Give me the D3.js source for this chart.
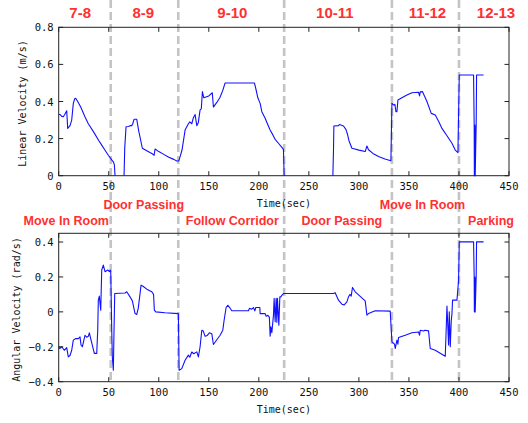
<!DOCTYPE html>
<html>
<head>
<meta charset="utf-8">
<script src="https://cdn.jsdelivr.net/npm/d3@7"></script>
<style>
  html, body { margin: 0; padding: 0; background: #fff; }
  svg { display: block; }
</style>
</head>
<body>
<svg id="chart" width="528" height="423"></svg>
<script>
// ---------- data ----------
const xTicks = [0, 50, 100, 150, 200, 250, 300, 350, 400, 450];
const linTicks = [0, 0.2, 0.4, 0.6, 0.8];
const angTicks = [-0.4, -0.2, 0, 0.2, 0.4];

const phaseBounds = [52, 119.5, 225.3, 333, 400];
const segLabels = ["7-8", "8-9", "9-10", "10-11", "11-12", "12-13"];
const segCenters = [21.5, 84.5, 173.5, 276, 368.5, 437];
const phaseLabels = ["Move In Room", "Door Passing", "Follow Corridor", "Door Passing", "Move In Room", "Parking"];
const phaseCenters = [7.5, 85, 173.5, 283, 363.5, 432];
const phaseRows = [1, 0, 1, 1, 0, 1];

// null = robot stopped (no trace drawn along the axis)
const linTime = [0, 1.3, 3, 4.6, 6, 8, 9, 11.3, 13, 14.6, 16, 17, 19, 22, 26, 29.6, 35, 40, 43, 46, 49.6, 53, 54.6, 55.6, 56.3, 60,
  65.3, 66, 67.3, 70, 71.3, 73, 74, 75.3, 78, 80, 83.6, 88, 93, 95.3, 96.3, 100, 105, 110, 115, 118, 120,
  121.7, 123.3, 126.3, 129.6, 131, 133, 134.6, 136.3, 138, 139.5, 141.3, 142.5, 143.6, 145, 150, 153.5, 154.6, 158, 161, 164, 166.3,
  195.6, 197.3, 199, 201.3, 203, 206.3, 209, 211.3, 214, 216.3, 219.6, 223, 224.6, 225.3, 250,
  274, 274.6, 275, 279.6, 280.6, 284.6, 287, 288.5, 290, 293, 295, 300, 306.3, 308, 309.6, 314, 319.6, 326, 332,
  333, 335, 336, 337, 338, 339, 343, 348, 353, 359.6, 360.6, 361.3, 363.6, 368, 372.3, 376.3, 380, 383, 388, 393, 396.3, 399, 399.6,
  400.3, 414.6, 415.2, 415.4, 415.6, 415.8, 416.0, 416.2, 417.2, 417.6, 424.6];
const linVel = [0.33, 0.33, 0.32, 0.318, 0.33, 0.35, 0.255, 0.27, 0.3, 0.39, 0.415, 0.417, 0.40, 0.37, 0.32, 0.28, 0.235, 0.19, 0.165, 0.14, 0.11, 0.085, 0.075, 0.06, 0, null,
  0, 0.15, 0.264, 0.265, 0.27, 0.27, 0.28, 0.304, 0.304, 0.24, 0.148, 0.135, 0.12, 0.11, 0.144, 0.13, 0.115, 0.1, 0.088, 0.079, 0.08,
  0.11, 0.14, 0.246, 0.28, 0.29, 0.28, 0.313, 0.33, 0.27, 0.285, 0.355, 0.36, 0.453, 0.42, 0.43, 0.447, 0.37, 0.395, 0.42, 0.46, 0.5,
  0.5, 0.462, 0.42, 0.39, 0.345, 0.31, 0.275, 0.246, 0.22, 0.196, 0.175, 0.153, 0.142, 0, null,
  0, 0.135, 0.268, 0.27, 0.276, 0.268, 0.25, 0.225, 0.19, 0.148, 0.145, 0.138, 0.13, 0.16, 0.14, 0.12, 0.103, 0.09, 0.081,
  0.39, 0.38, 0.385, 0.345, 0.345, 0.408, 0.42, 0.435, 0.447, 0.45, 0.43, 0.452, 0.453, 0.4, 0.336, 0.327, 0.29, 0.255, 0.215, 0.175, 0.138, 0.124, 0.33,
  0.543, 0.543, 0.273, 0, 0.273, 0, 0.273, 0, 0.273, 0.543, 0.543];

const angTime = [0, 1, 3, 5.6, 8, 9.6, 11.3, 13, 14.6, 17, 19.6, 21.3, 22.3, 23.6, 26.3, 28, 29.6, 30.6, 32.3, 34, 35.6, 38, 39, 39.6, 40.6, 42,
  43, 44.6, 46.3, 49, 50.6, 51.5, 52, 53, 53.6, 54.6, 55.3, 56, 66.3, 68, 71.3, 73.6, 76.3, 78, 79.5, 82.3, 84.6, 88, 93, 94.8, 95.6, 97,
  106.3, 119.6, 120.3, 123, 126.3, 129.6, 131, 133, 135, 138, 139.6, 141.3, 143, 144.5, 146.3, 148.5, 150.6, 153, 154.6, 158, 161.3, 164,
  165.3, 167.3, 169, 171.3, 173, 189.6, 190.6, 193, 194.6, 196, 197, 201, 201.3, 206.3, 207.3, 209, 210.5, 211.3, 212, 213, 214.6, 215.3,
  216.3, 217.3, 218, 218.6, 220, 221, 222, 223, 224.6, 274.6, 276.3, 279.6, 283, 285.3, 288, 289.6, 291, 292.3, 293.6, 296.3, 306.3, 308,
  309.6, 316.3, 331.3, 333, 335.6, 336.3, 338, 339, 339.6, 346.3, 353, 359.6, 360.6, 361.3, 364.6, 366, 369.6, 371.3, 376.3, 384.6, 386.3,
  387, 388, 389, 389.6, 390.3, 391.3, 392.3, 393, 393.6, 398, 399.6, 400.3, 414.6, 415.2, 415.4, 415.6, 415.8, 416.0, 416.2, 417.2, 417.6, 424.6];
const angVel = [-0.2, -0.21, -0.2, -0.22, -0.205, -0.258, -0.25, -0.22, -0.162, -0.153, -0.153, -0.143, -0.19, -0.2, -0.134, -0.145, -0.14, -0.12, -0.16, -0.2, -0.238, -0.238, -0.105, 0.067, 0.09, 0.01,
  0.24, 0.268, 0.23, 0.24, 0.23, 0.24, 0.23, -0.105, -0.26, -0.334, -0.1, 0.105, 0.108, 0.115, 0.086, 0.063, -0.01, -0.015, 0.02, 0.153, 0.145, 0.13, 0.115, 0.1, 0.01, 0,
  -0.005, -0.01, -0.334, -0.325, -0.277, -0.248, -0.26, -0.23, -0.24, -0.229, -0.258, -0.2, -0.105, -0.11, -0.14, -0.135, -0.12, -0.125, -0.187, -0.16, -0.134, -0.105,
  -0.048, 0.025, 0.038, 0.021, 0.006, 0.006, 0.02, 0.015, 0.025, 0.006, 0.025, 0.025, -0.01, -0.01, -0.025, -0.02, -0.03, -0.14, -0.085, -0.12, -0.02, 0.077,
  -0.057, 0.077, -0.06, 0.077, -0.076, 0.086, 0.086, 0.095, 0.105, 0.105, 0.11, 0.067, 0.044, 0.04, 0.057, 0.086, 0.1, 0.09, 0.14, 0.115, 0.063, -0.019,
  -0.01, 0.006, 0.004, -0.172, -0.185, -0.21, -0.162, -0.185, -0.147, -0.134, -0.12, -0.115, -0.134, -0.105, -0.11, -0.105, -0.109, -0.21, -0.22, -0.248, -0.254,
  -0.14, 0.033, -0.1, -0.19, 0.0, -0.2, -0.05, -0.01, 0.067, 0.067, 0.18, 0.401, 0.401, 0.2, 0, 0.2, 0, 0.2, 0, 0.2, 0.401, 0.401];

// ---------- drawing ----------
const svg = d3.select("#chart");
const X0 = 58.7, X1 = 509;
const x = d3.scaleLinear().domain([0, 450]).range([X0, X1]);
const yLin = d3.scaleLinear().domain([0, 0.8]).range([175.7, 27.3]);
const yAng = d3.scaleLinear().domain([-0.4, 0.45]).range([381.7, 233.3]);

const tickFont = "'DejaVu Sans Mono', monospace";
const red = "#ff3030";

// dashed phase boundaries
svg.append("g").selectAll("line").data(phaseBounds).join("line")
  .attr("x1", d => x(d)).attr("x2", d => x(d))
  .attr("y1", 0).attr("y2", 382)
  .attr("stroke", "#c4c4c4").attr("stroke-width", 2.6)
  .attr("stroke-dasharray", "8,4");

function panel(y, tickVals, fmt, tVals, vVals, yLabel, labelX) {
  const g = svg.append("g");
  const [yb, yt] = y.range();
  const line = d3.line().defined(d => d[1] !== null).x(d => x(d[0])).y(d => y(d[1]));
  g.append("path").datum(tVals.map((t, i) => [t, vVals[i]]))
    .attr("d", line).attr("fill", "none")
    .attr("stroke", "#1010ff").attr("stroke-width", 1.1).attr("stroke-linejoin", "round");

  // ticks inward on all sides
  const tl = 4.5;
  const tg = g.append("g").attr("stroke", "#222").attr("stroke-width", 1);
  xTicks.forEach(t => {
    tg.append("line").attr("x1", x(t)).attr("x2", x(t)).attr("y1", yb).attr("y2", yb - tl);
    tg.append("line").attr("x1", x(t)).attr("x2", x(t)).attr("y1", yt).attr("y2", yt + tl);
  });
  tickVals.forEach(v => {
    tg.append("line").attr("x1", X0).attr("x2", X0 + tl).attr("y1", y(v)).attr("y2", y(v));
    tg.append("line").attr("x1", X1).attr("x2", X1 - tl).attr("y1", y(v)).attr("y2", y(v));
  });
  g.append("rect").attr("x", X0).attr("y", yt).attr("width", X1 - X0).attr("height", yb - yt)
    .attr("fill", "none").attr("stroke", "#222").attr("stroke-width", 1);

  // tick labels
  g.append("g").selectAll("text").data(xTicks).join("text")
    .attr("x", d => x(d)).attr("y", yb + 14)
    .attr("text-anchor", "middle").attr("font-family", tickFont).attr("font-size", 10.5)
    .attr("fill", "#111").text(d => d);
  g.append("g").selectAll("text").data(tickVals).join("text")
    .attr("x", X0 - 5).attr("y", d => y(d) + 4)
    .attr("text-anchor", "end").attr("font-family", tickFont).attr("font-size", 10.5)
    .attr("fill", "#111").text(fmt);
  g.append("text").attr("x", (X0 + X1) / 2).attr("y", yb + 31)
    .attr("text-anchor", "middle").attr("font-family", tickFont).attr("font-size", 10)
    .attr("fill", "#111").text("Time(sec)");
  g.append("text")
    .attr("transform", `translate(${labelX},${(yb + yt) / 2 + 2}) rotate(-90)`)
    .attr("text-anchor", "middle").attr("font-family", tickFont).attr("font-size", 10)
    .attr("fill", "#111").text(yLabel);
}

const fmt = d => d === 0 ? "0" : d3.format(".1f")(d);
panel(yLin, linTicks, fmt, linTime, linVel, "Linear Velocity (m/s)", 26);
panel(yAng, angTicks, fmt, angTime, angVel, "Angular Velocity (rad/s)", 20);

// segment labels on top
svg.append("g").selectAll("text").data(segLabels).join("text")
  .attr("x", (d, i) => x(segCenters[i])).attr("y", 18)
  .attr("text-anchor", "middle").attr("font-family", "'Liberation Sans', Arial, sans-serif")
  .attr("font-weight", "bold").attr("font-size", 15).attr("fill", red).text(d => d);

// phase labels between panels
svg.append("g").selectAll("text").data(phaseLabels).join("text")
  .attr("x", (d, i) => x(phaseCenters[i])).attr("y", (d, i) => phaseRows[i] === 0 ? 209 : 225)
  .attr("text-anchor", "middle").attr("font-family", "'Liberation Sans', Arial, sans-serif")
  .attr("font-weight", "bold").attr("font-size", 12.5).attr("fill", red).text(d => d);
</script>
</body>
</html>
